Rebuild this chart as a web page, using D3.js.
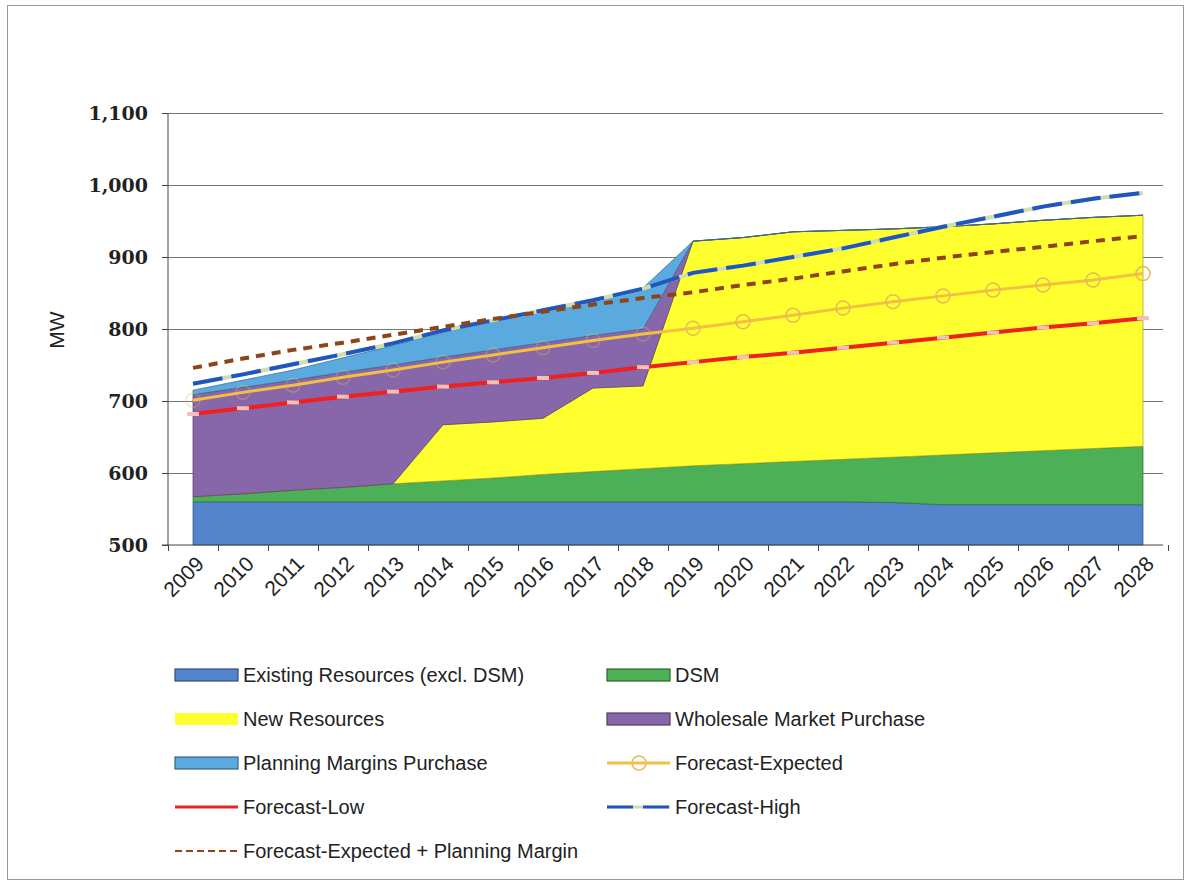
<!DOCTYPE html>
<html lang="en">
<head>
  <meta charset="utf-8">
  <title>Resources vs Forecast</title>
  <script src="https://d3js.org/d3.v7.min.js"></script>
  <style>
    body { margin: 0; background: #fff; }
    .axis text { font: bold 19px "DejaVu Serif", serif; fill: #222; }
    .axis path, .axis line { stroke: #444; }
    .grid line { stroke: #777; }
    .grid path { display: none; }
    .yearlab { font: 21px "Liberation Sans", Arial, sans-serif; fill: #222; }
    .legend text { font: 20px "Liberation Sans", Arial, sans-serif; fill: #222; }
  </style>
</head>
<body>
<div id="chart"></div>
<script>
"use strict"

// categorias e series (MW)
var years = ["2009","2010","2011","2012","2013","2014","2015","2016","2017","2018",
             "2019","2020","2021","2022","2023","2024","2025","2026","2027","2028"];

var existing  = [560,560,560,560,560,560,560,560,560,560,560,560,560,560,559,556,556,556,556,556];
var dsm       = [7,11,16,20,25,29,33,38,42,46,50,53,56,59,63,69,72,75,78,81];
var newRes    = [0,0,0,0,0,78,78,78,116,115,312,314,319,318,317,317,318,320,321,321];
var wholesale = [142,148,153,160,165,94,100,105,73,79,0,0,0,0,0,0,0,0,0,0];
var planning  = [6,10,14,20,27,34,39,44,49,57,0,0,0,0,0,0,0,0,0,0];

var forecastExpected = [701,712,722,733,743,754,764,774,784,793,801,810,819,829,838,846,854,861,868,877];
var forecastLow      = [682,690,698,706,713,720,726,732,739,747,754,761,767,774,781,788,795,802,808,815];
var forecastHigh     = [724,737,751,765,780,798,812,826,840,856,878,888,900,912,927,942,956,970,981,989];
var expPlusPM        = [746,759,771,781,792,803,814,824,834,843,851,861,870,880,890,899,907,914,922,929];

var yTicks = [500,600,700,800,900,1000,1100];

var areaKeys = ["existing","dsm","newRes","wholesale","planning"];
var areaCores = {existing:"#5384CC", dsm:"#4BB056", newRes:"#FFFF30", wholesale:"#8766AA", planning:"#5AAAE0"};

var tabela = years.map(function(a, i) {
  return {ano: a, existing: existing[i], dsm: dsm[i], newRes: newRes[i],
          wholesale: wholesale[i], planning: planning[i]};
});

var W = 1190, H = 884;
var svg = d3.select("#chart").append("svg")
  .attr("width", W).attr("height", H);

// moldura
svg.append("rect")
  .attr("x", 7.5).attr("y", 5.5).attr("width", 1176).attr("height", 874)
  .attr("fill", "none").attr("stroke", "#999");

var x = d3.scaleBand().domain(years).range([168, 1168]);
var xIdx = d3.scaleLinear().domain([0, years.length]).range([168, 1168]);
var y = d3.scaleLinear().domain([500, 1100]).range([545, 113]).clamp(true);
var cx = function(a) { return x(a) + x.bandwidth() / 2; };

// grade
svg.append("g").attr("class", "grid")
  .attr("transform", "translate(168,0)")
  .call(d3.axisLeft(y).tickValues(yTicks.slice(1)).tickSize(-995).tickFormat(""));

// areas empilhadas
var pilha = d3.stack().keys(areaKeys)(tabela);
var area = d3.area()
  .x(function(d) { return cx(d.data.ano); })
  .y0(function(d) { return y(d[0]); })
  .y1(function(d) { return y(d[1]); });

svg.append("g").selectAll("path")
  .data(pilha)
  .enter().append("path")
    .attr("d", area)
    .attr("fill", function(s) { return areaCores[s.key]; })
    .attr("stroke", function(s) { return d3.color(areaCores[s.key]).darker(1.3); })
    .attr("stroke-width", 1)
    .attr("stroke-opacity", 0.7);

// linhas
var linha = d3.line()
  .x(function(d, i) { return cx(years[i]); })
  .y(function(d) { return y(d); });

// Forecast-Low
svg.append("path").attr("d", linha(forecastLow))
  .attr("fill", "none").attr("stroke", "#EE2020").attr("stroke-width", 4);
svg.append("g").selectAll("rect")
  .data(forecastLow)
  .enter().append("rect")
    .attr("x", function(d, i) { return cx(years[i]) - 6; })
    .attr("y", function(d) { return y(d) - 2; })
    .attr("width", 12).attr("height", 4)
    .attr("fill", "#F4C0BC");

// Forecast-Expected
svg.append("path").attr("d", linha(forecastExpected))
  .attr("fill", "none").attr("stroke", "#F4C040").attr("stroke-width", 3);
svg.append("g").selectAll("circle")
  .data(forecastExpected)
  .enter().append("circle")
    .attr("cx", function(d, i) { return cx(years[i]); })
    .attr("cy", function(d) { return y(d); })
    .attr("r", 7)
    .attr("fill", "none").attr("stroke", "#E8B85A").attr("stroke-width", 1.5)
    .attr("stroke-opacity", function(d, i) { return i < 10 ? 0.35 : 1; });

// Forecast-High
svg.append("path").attr("d", linha(forecastHigh))
  .attr("fill", "none").attr("stroke", "#CFDDB2").attr("stroke-width", 4);
svg.append("path").attr("d", linha(forecastHigh))
  .attr("fill", "none").attr("stroke", "#1F56C0").attr("stroke-width", 4)
  .attr("stroke-dasharray", "30,9");

// Forecast-Expected + Planning Margin
svg.append("path").attr("d", linha(expPlusPM))
  .attr("fill", "none").attr("stroke", "#8E4318").attr("stroke-width", 4)
  .attr("stroke-dasharray", "9,7");

// eixos
svg.append("g").attr("class", "axis")
  .attr("transform", "translate(168,0)")
  .call(d3.axisLeft(y).tickValues(yTicks).tickFormat(d3.format(",")).tickSize(6).tickPadding(14))
  .select(".domain").attr("d", "M0," + y(1100) + "V" + y(500));

svg.append("g").attr("class", "axis")
  .attr("transform", "translate(0,545)")
  .call(d3.axisBottom(xIdx).ticks(years.length).tickFormat("").tickSize(6).tickSizeOuter(0))
  .select(".domain").attr("d", "M162,0H1163");

svg.append("g").selectAll("text")
  .data(years)
  .enter().append("text")
    .attr("class", "yearlab")
    .attr("transform", function(a) { return "translate(" + (cx(a) + 7) + ",560) rotate(-45)"; })
    .attr("text-anchor", "end")
    .attr("dy", "0.35em")
    .text(function(a) { return a; });

svg.append("text")
  .attr("transform", "translate(64,330) rotate(-90)")
  .attr("text-anchor", "middle")
  .style("font", "21px 'Liberation Sans', Arial, sans-serif")
  .attr("fill", "#222")
  .text("MW");

// legenda
var leg = svg.append("g").attr("class", "legend");
var itens = [
  {nome: "Existing Resources (excl. DSM)", tipo: "area", cor: areaCores.existing, col: 0, lin: 0},
  {nome: "DSM", tipo: "area", cor: areaCores.dsm, col: 1, lin: 0},
  {nome: "New Resources", tipo: "area", cor: areaCores.newRes, col: 0, lin: 1},
  {nome: "Wholesale Market Purchase", tipo: "area", cor: areaCores.wholesale, col: 1, lin: 1},
  {nome: "Planning Margins Purchase", tipo: "area", cor: areaCores.planning, col: 0, lin: 2},
  {nome: "Forecast-Expected", tipo: "exp", col: 1, lin: 2},
  {nome: "Forecast-Low", tipo: "low", col: 0, lin: 3},
  {nome: "Forecast-High", tipo: "high", col: 1, lin: 3},
  {nome: "Forecast-Expected + Planning Margin", tipo: "pm", col: 0, lin: 4}
];

itens.forEach(function(it) {
  var x0 = it.col === 0 ? 175 : 607;
  var yc = 675 + it.lin * 44;
  var g = leg.append("g");
  if (it.tipo === "area") {
    g.append("rect").attr("x", x0).attr("y", yc - 6).attr("width", 63).attr("height", 12)
      .attr("fill", it.cor)
      .attr("stroke", it.cor === areaCores.newRes ? "none" : d3.color(it.cor).darker(1.5))
      .attr("stroke-width", 1.2);
  } else if (it.tipo === "exp") {
    g.append("line").attr("x1", x0).attr("x2", x0 + 63).attr("y1", yc).attr("y2", yc)
      .attr("stroke", "#F4C040").attr("stroke-width", 3);
    g.append("circle").attr("cx", x0 + 32).attr("cy", yc).attr("r", 7)
      .attr("fill", "none").attr("stroke", "#E8B85A").attr("stroke-width", 1.5);
  } else if (it.tipo === "low") {
    g.append("line").attr("x1", x0).attr("x2", x0 + 63).attr("y1", yc).attr("y2", yc)
      .attr("stroke", "#EE2020").attr("stroke-width", 3);
  } else if (it.tipo === "high") {
    g.append("line").attr("x1", x0).attr("x2", x0 + 63).attr("y1", yc).attr("y2", yc)
      .attr("stroke", "#CFDDB2").attr("stroke-width", 3);
    g.append("line").attr("x1", x0).attr("x2", x0 + 63).attr("y1", yc).attr("y2", yc)
      .attr("stroke", "#1F56C0").attr("stroke-width", 3).attr("stroke-dasharray", "26,10");
  } else {
    g.append("line").attr("x1", x0).attr("x2", x0 + 63).attr("y1", yc).attr("y2", yc)
      .attr("stroke", "#8E4318").attr("stroke-width", 2).attr("stroke-dasharray", "7,4");
  }
  g.append("text").attr("x", x0 + 68).attr("y", yc + 7).text(it.nome);
});
</script>
</body>
</html>
